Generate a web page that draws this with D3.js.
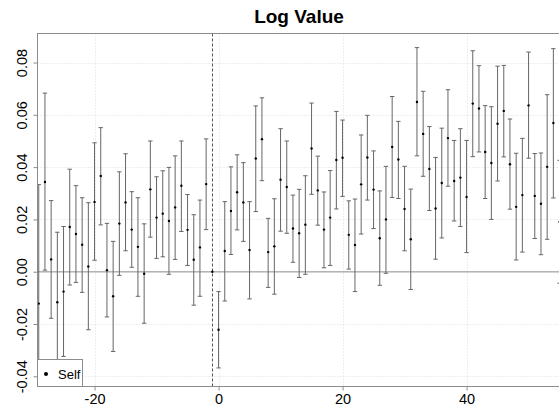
<!DOCTYPE html>
<html>
<head>
<meta charset="utf-8">
<script src="https://cdn.jsdelivr.net/npm/d3@7"></script>
<style>
  body { margin: 0; background: #fff; }
  text { font-family: "Liberation Sans", Arial, sans-serif; }
</style>
</head>
<body>
<div id="chart"></div>
<script>
// event time relative to treatment
const periods = [-29, -28, -27, -26, -25, -24, -23, -22, -21, -20, -19, -18, -17, -16, -15,
  -14, -13, -12, -11, -10, -9, -8, -7, -6, -5, -4, -3, -2, -1, 0, 1, 2, 3, 4, 5, 6, 7, 8,
  9, 10, 11, 12, 13, 14, 15, 16, 17, 18, 19, 20, 21, 22, 23, 24, 25, 26, 27, 28, 29, 30,
  31, 32, 33, 34, 35, 36, 37, 38, 39, 40, 41, 42, 43, 44, 45, 46, 47, 48, 49, 50, 51, 52,
  53, 54, 55];

const estimate = [-0.0122, 0.0343, 0.0047, -0.0117, -0.0076, 0.0171, 0.0144, 0.0103, 0.0020,
  0.0267, 0.0366, 0.0006, -0.0094, 0.0184, 0.0265, 0.0161, 0.0095, -0.0008, 0.0315, 0.0207,
  0.0222, 0.0194, 0.0246, 0.0329, 0.0160, 0.0046, 0.0093, 0.0335, 0,
  -0.0222, 0.0079, 0.0232, 0.0304, 0.0265, 0.0083, 0.0433, 0.0507, 0.0075, 0.0097, 0.0352,
  0.0324, 0.0165, 0.0147, 0.0180, 0.0471, 0.0311, 0.0161, 0.0207, 0.0427, 0.0436, 0.0141,
  0.0102, 0.0334, 0.0437, 0.0314, 0.0128, 0.0200, 0.0477, 0.0429, 0.0240, 0.0124, 0.0649,
  0.0527, 0.0393, 0.0242, 0.0339, 0.0511, 0.0347, 0.0360, 0.0286, 0.0643, 0.0624, 0.0458,
  0.0416, 0.0566, 0.0615, 0.0411, 0.0248, 0.0293, 0.0636, 0.0290, 0.0260, 0.0401, 0.0569,
  0.0191];

const upper = [0.0333, 0.0683, 0.0272, 0.0151, 0.0173, 0.0392, 0.0329, 0.0283, 0.0264, 0.0493,
  0.0551, 0.0185, 0.0116, 0.0382, 0.0451, 0.0306, 0.0283, 0.0183, 0.0500, 0.0363, 0.0386,
  0.0399, 0.0443, 0.0500, 0.0295, 0.0218, 0.0274, 0.0508, null,
  -0.0076, 0.0268, 0.0401, 0.0447, 0.0417, 0.0268, 0.0634, 0.0665, 0.0204, 0.0279, 0.0547,
  0.0500, 0.0293, 0.0315, 0.0367, 0.0645, 0.0442, 0.0305, 0.0387, 0.0613, 0.0580, 0.0271,
  0.0278, 0.0523, 0.0598, 0.0462, 0.0309, 0.0403, 0.0670, 0.0575, 0.0403, 0.0316, 0.0857,
  0.0690, 0.0555, 0.0437, 0.0549, 0.0696, 0.0502, 0.0547, 0.0502, 0.0845, 0.0788, 0.0635,
  0.0631, 0.0786, 0.0789, 0.0584, 0.0453, 0.0510, 0.0840, 0.0452, 0.0454, 0.0677, 0.0853,
  0.0426];

const lower = [-0.0577, 0.0006, -0.0178, -0.0385, -0.0324, -0.0051, -0.0041, -0.0079, -0.0222,
  0.0044, 0.0179, -0.0173, -0.0305, -0.0014, 0.0080, 0.0017, -0.0094, -0.0197, 0.0132, 0.0051,
  0.0057, -0.0010, 0.0047, 0.0154, 0.0024, -0.0128, -0.0094, 0.0161, null,
  -0.0368, -0.0112, 0.0066, 0.0160, 0.0116, -0.0104, 0.0230, 0.0348, -0.0060, -0.0086, 0.0155,
  0.0147, 0.0036, -0.0022, -0.0010, 0.0296, 0.0178, 0.0015, 0.0024, 0.0240, 0.0288, 0.0010,
  -0.0076, 0.0144, 0.0274, 0.0165, -0.0052, -0.0006, 0.0284, 0.0280, 0.0080, -0.0068, 0.0443,
  0.0365, 0.0234, 0.0048, 0.0129, 0.0327, 0.0194, 0.0173, 0.0073, 0.0440, 0.0458, 0.0280,
  0.0200, 0.0347, 0.0439, 0.0239, 0.0045, 0.0075, 0.0434, 0.0127, 0.0065, 0.0124, 0.0282,
  -0.0044];

const xTicks = [-20, 0, 20, 40];
const yTicks = [-0.04, -0.02, 0, 0.02, 0.04, 0.06, 0.08];
const refPeriod = -1;
const seriesName = 'Self';
const title = 'Log Value';

const data = periods.map((p, i) => ({ p, est: estimate[i], lo: lower[i], hi: upper[i] }));

const W = 559, H = 414;
const m = { left: 37.5, right: 560.5, top: 33.5, bottom: 386.5 };

const svg = d3.select('#chart').append('svg')
  .attr('width', W)
  .attr('height', H);

const x = d3.scaleLinear().domain([-29.2, 55.15]).range([m.left, m.right]);
const y = d3.scaleLinear().domain([-0.0439, 0.0911]).range([m.bottom, m.top]);

svg.append('defs').append('clipPath').attr('id', 'clip')
  .append('rect')
  .attr('x', m.left).attr('y', m.top)
  .attr('width', m.right - m.left).attr('height', m.bottom - m.top);

// grid
const grid = svg.append('g').attr('stroke', '#dcdcdc').attr('stroke-dasharray', '1,2');
grid.selectAll('.gy').data(yTicks).enter().append('line')
  .attr('x1', m.left).attr('x2', m.right)
  .attr('y1', d => Math.round(y(d)) + 0.5).attr('y2', d => Math.round(y(d)) + 0.5);
grid.selectAll('.gx').data(xTicks).enter().append('line')
  .attr('y1', m.top).attr('y2', m.bottom)
  .attr('x1', d => Math.round(x(d)) + 0.5).attr('x2', d => Math.round(x(d)) + 0.5);

// zero line and reference period
svg.append('line')
  .attr('x1', m.left).attr('x2', m.right)
  .attr('y1', y(0)).attr('y2', y(0))
  .attr('stroke', '#b4b4b4').attr('stroke-width', 1.6);

svg.append('line')
  .attr('x1', Math.round(x(refPeriod)) + 0.5).attr('x2', Math.round(x(refPeriod)) + 0.5)
  .attr('y1', m.top).attr('y2', m.bottom)
  .attr('stroke', '#555').attr('stroke-dasharray', '3,2');

// error bars
const bars = svg.append('g').attr('clip-path', 'url(#clip)')
  .attr('stroke', '#666').attr('stroke-width', 1);
const withCI = data.filter(d => d.lo !== null);

bars.selectAll('.bar').data(withCI).enter().append('line')
  .attr('x1', d => x(d.p)).attr('x2', d => x(d.p))
  .attr('y1', d => y(d.lo)).attr('y2', d => y(d.hi));
bars.selectAll('.capHi').data(withCI).enter().append('line')
  .attr('x1', d => x(d.p) - 2.2).attr('x2', d => x(d.p) + 2.2)
  .attr('y1', d => y(d.hi)).attr('y2', d => y(d.hi));
bars.selectAll('.capLo').data(withCI).enter().append('line')
  .attr('x1', d => x(d.p) - 2.2).attr('x2', d => x(d.p) + 2.2)
  .attr('y1', d => y(d.lo)).attr('y2', d => y(d.lo));

svg.append('g').attr('clip-path', 'url(#clip)')
  .selectAll('circle').data(data).enter().append('circle')
  .attr('cx', d => x(d.p)).attr('cy', d => y(d.est))
  .attr('r', 1.2).attr('fill', '#000');

// box
svg.append('rect')
  .attr('x', m.left).attr('y', m.top)
  .attr('width', m.right - m.left).attr('height', m.bottom - m.top)
  .attr('fill', 'none').attr('stroke', '#8c8c8c');

// axes (plain hyphen minus, like base R)
const xAxis = svg.append('g')
  .attr('transform', `translate(0,${m.bottom})`)
  .call(d3.axisBottom(x).tickValues(xTicks).tickSize(4).tickPadding(3)
    .tickFormat(d => String(d)));
xAxis.select('.domain').remove();
xAxis.selectAll('line').attr('stroke', '#8c8c8c');
xAxis.selectAll('text').attr('font-size', 14.5).attr('fill', '#000')
  .style('font-family', '"Liberation Sans", Arial, sans-serif');

const yAxis = svg.append('g')
  .attr('transform', `translate(${m.left},0)`)
  .call(d3.axisLeft(y).tickValues(yTicks).tickSize(4).tickFormat(d => d.toFixed(2)));
yAxis.select('.domain').remove();
yAxis.selectAll('line').attr('stroke', '#8c8c8c');
yAxis.selectAll('text')
  .attr('x', null).attr('dy', null)
  .attr('text-anchor', 'middle')
  .attr('transform', 'translate(-10.5,0) rotate(-90)')
  .attr('font-size', 14.5).attr('fill', '#000')
  .style('font-family', '"Liberation Sans", Arial, sans-serif');

// title
svg.append('text')
  .attr('x', 299).attr('y', 23)
  .attr('text-anchor', 'middle')
  .attr('font-size', 19).attr('font-weight', 'bold')
  .text(title);

// legend
const lg = svg.append('g');
lg.append('rect')
  .attr('x', m.left).attr('y', 359.5)
  .attr('width', 45).attr('height', m.bottom - 359.5)
  .attr('fill', '#fff').attr('stroke', '#8c8c8c');
lg.append('circle').attr('cx', 46).attr('cy', 374).attr('r', 2).attr('fill', '#000');
lg.append('text').attr('x', 58).attr('y', 378.5)
  .attr('font-size', 13).text(seriesName);
</script>
</body>
</html>
